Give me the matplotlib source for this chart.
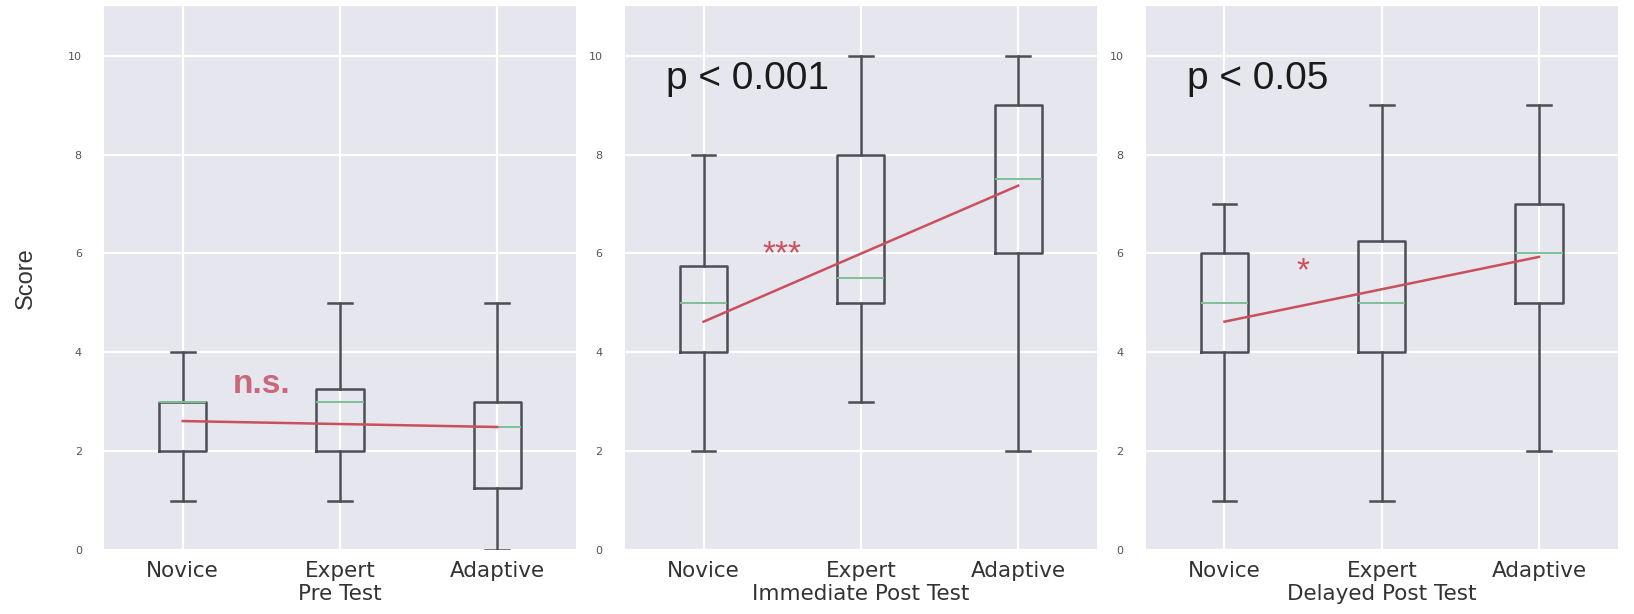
import matplotlib
matplotlib.use("Agg")
import matplotlib.pyplot as plt

plt.rcParams['font.family'] = ['Liberation Sans', 'DejaVu Sans']

groups = ["Novice", "Expert", "Adaptive"]
tests = ["Pre Test", "Immediate Post Test", "Delayed Post Test"]

# five-number summaries per test: [Novice, Expert, Adaptive]
whisker_low = [[1, 1, 0], [2, 3, 2], [1, 1, 2]]
quartile_1 = [[2, 2, 1.25], [4, 5, 6], [4, 4, 5]]
medians = [[3, 3, 2.5], [5, 5.5, 7.5], [5, 5, 6]]
quartile_3 = [[3, 3.25, 3], [5.75, 8, 9], [6, 6.25, 7]]
whisker_high = [[4, 5, 5], [8, 10, 10], [7, 9, 9]]

# linear trend across groups (value at Novice, value at Adaptive)
trend_start = [2.61, 4.62, 4.62]
trend_end = [2.49, 7.37, 5.93]

significance = ["n.s.", "***", "*"]
sig_y = [3.17, 5.8, 5.46]
p_labels = [None, "p < 0.001", "p < 0.05"]

bg = "#e6e6ee"
box_col = "#4d4d57"
med_col = "#7dbf95"
red = "#c9505c"
wide_font = ["DejaVu Sans"]

fig, axes = plt.subplots(1, 3, figsize=(16.34, 6.14), dpi=100)
fig.subplots_adjust(left=0.0637, right=0.990, top=0.99, bottom=0.104, wspace=0.104)

positions = [1, 2, 3]
for i, ax in enumerate(axes):
    ax.set_facecolor(bg)
    stats = []
    for j, g in enumerate(groups):
        stats.append(dict(label=g, whislo=whisker_low[i][j], q1=quartile_1[i][j],
                          med=medians[i][j], q3=quartile_3[i][j],
                          whishi=whisker_high[i][j], fliers=[]))
    ax.bxp(stats, positions=positions, widths=0.3, showfliers=False,
           boxprops=dict(color=box_col, linewidth=1.8),
           whiskerprops=dict(color=box_col, linewidth=1.8),
           capprops=dict(color=box_col, linewidth=1.8),
           medianprops=dict(color=med_col, linewidth=1.4))
    ax.plot([positions[0], positions[-1]], [trend_start[i], trend_end[i]],
            color=red, linewidth=1.8, zorder=5)

    ax.text(1.5, sig_y[i], significance[i], color=red if i else "#c8687a",
            fontsize=24, ha="center", va="baseline",
            fontweight="bold" if i == 0 else "normal")
    if p_labels[i]:
        ax.text(0.76, 9.33, p_labels[i], fontsize=28, color="#1a1a1a",
                ha="left", va="baseline")

    ax.set_xlim(0.5, 3.5)
    ax.set_ylim(0, 11)
    ax.set_yticks([0, 2, 4, 6, 8, 10])
    ax.set_yticklabels(["0", "2", "4", "6", "8", "10"], family=wide_font)
    ax.set_xticks(positions)
    ax.set_xticklabels(groups, family=wide_font)
    ax.tick_params(axis="y", labelsize=8, labelcolor="#555555", length=0, pad=16)
    ax.tick_params(axis="x", labelsize=15.5, labelcolor="#333333", length=0, pad=8)
    ax.set_xlabel(tests[i], fontsize=15.5, color="#333333", labelpad=2,
                  family=wide_font)
    ax.grid(True, color="white", linewidth=1.6)
    ax.set_axisbelow(True)
    for s in ax.spines.values():
        s.set_visible(False)

axes[0].set_ylabel("Score", fontsize=17, color="#333333", labelpad=22)

fig.savefig("out.png", dpi=100, facecolor="white")
